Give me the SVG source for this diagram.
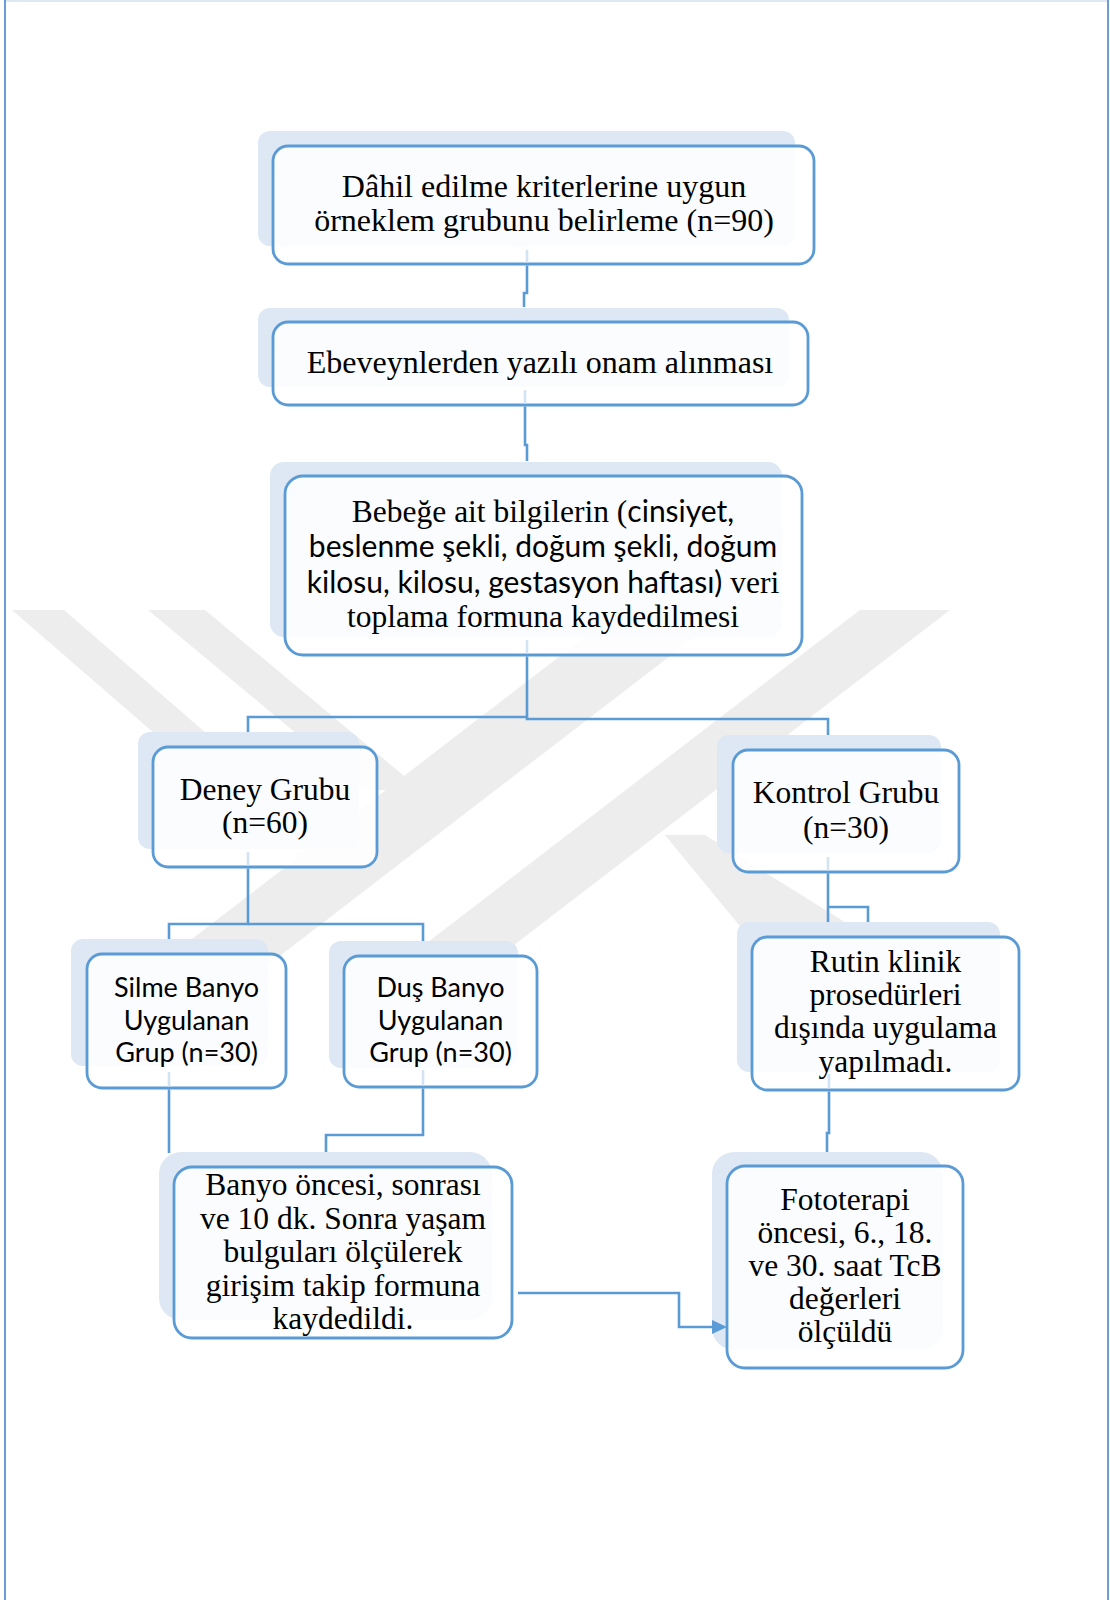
<svg xmlns="http://www.w3.org/2000/svg" width="1110" height="1600" viewBox="0 0 1110 1600">
<style>
.wm{fill:#ededed}
.sh{fill:#dde8f4}
.bx{fill:#ffffff;fill-opacity:0.86;stroke:#5b9bd5;stroke-width:2.8}
.cn{fill:none;stroke:#5b9bd5;stroke-width:2.6}
.cf{fill:none;stroke:#d3e3f3;stroke-width:2.6}
.se{font-family:"Liberation Serif","Times New Roman",serif;font-size:31.5px;fill:#000;text-anchor:middle}
.sl{font-family:"Liberation Serif","Times New Roman",serif;font-size:32px;fill:#000;text-anchor:middle}
.ss{font-family:Lato,Carlito,"Liberation Sans",sans-serif;font-size:30px;fill:#000;text-anchor:middle}
.sm{font-family:Lato,Carlito,"Liberation Sans",sans-serif;font-size:27px;fill:#000;text-anchor:middle}
.pb{stroke:#6a9fd6;stroke-width:2}
</style>
<defs>
<clipPath id="wmclip"><rect x="0" y="610" width="1110" height="355"/></clipPath>
<marker id="ah" markerWidth="16" markerHeight="14" refX="1" refY="7" orient="auto" markerUnits="userSpaceOnUse"><path d="M0,0 L15,7 L0,14 Z" fill="#5b9bd5"/></marker>
</defs>
<rect x="0" y="0" width="1110" height="1600" fill="#ffffff"/>
<g id="page-border">
<line x1="5" y1="1" x2="1108" y2="1" stroke="#dde8f4" stroke-width="2"/>
<line class="pb" x1="5" y1="0" x2="5" y2="1600"/>
<line class="pb" x1="1108" y1="0" x2="1108" y2="1600"/>
</g>
<g id="watermark" clip-path="url(#wmclip)">
<polygon class="wm" points="12,610 64,610 214,740 162,740"/>
<polygon class="wm" points="148,610 205,610 421,790 364,790"/>
<polygon class="wm" points="620,610 730,610 255,975 145,975"/>
<polygon class="wm" points="860,610 950,610 475,975 385,975"/>
<polygon class="wm" points="665,835 705,835 930,975 780,975"/>
</g>
<g id="n1">
<rect class="sh" x="258" y="131" width="537" height="115" rx="12"/>
<rect class="bx" x="273" y="146" width="541" height="118" rx="15"/>
<text class="sl" x="544" y="197">Dâhil edilme kriterlerine uygun</text>
<text class="sl" x="544" y="231">örneklem grubunu belirleme (n=90)</text>
</g>
<g id="n2">
<rect class="sh" x="258" y="308" width="531" height="79" rx="12"/>
<rect class="bx" x="273" y="322" width="535" height="83" rx="15"/>
<text class="sl" x="540" y="373">Ebeveynlerden yazılı onam alınması</text>
</g>
<g id="n3">
<rect class="sh" x="270" y="462" width="512" height="175" rx="14"/>
<rect class="bx" x="285" y="476" width="517" height="179" rx="18"/>
<text class="se" x="543" y="522">Bebeğe ait bilgilerin (<tspan style="font-family:Lato,Carlito,'Liberation Sans',sans-serif;font-size:30px">cinsiyet,</tspan></text>
<text class="ss" x="543" y="557">beslenme şekli, doğum şekli, doğum</text>
<text class="ss" x="543" y="593">kilosu, kilosu, gestasyon haftası)<tspan style="font-family:'Liberation Serif','Times New Roman',serif;font-size:31.5px"> veri</tspan></text>
<text class="se" x="543" y="627">toplama formuna kaydedilmesi</text>
</g>
<g id="n4">
<rect class="sh" x="138" y="732" width="221" height="117" rx="12"/>
<rect class="bx" x="153" y="747" width="224" height="120" rx="15"/>
<text class="se" x="265" y="800">Deney Grubu</text>
<text class="se" x="265" y="833">(n=60)</text>
</g>
<g id="n5">
<rect class="sh" x="717" y="735" width="224" height="118" rx="12"/>
<rect class="bx" x="733" y="750" width="226" height="122" rx="15"/>
<text class="se" x="846" y="803">Kontrol Grubu</text>
<text class="se" x="846" y="838">(n=30)</text>
</g>
<g id="n6">
<rect class="sh" x="71" y="939" width="197" height="127" rx="12"/>
<rect class="bx" x="87" y="954" width="199" height="134" rx="15"/>
<text class="sm" x="186.5" y="997">Silme Banyo</text>
<text class="sm" x="186.5" y="1030">Uygulanan</text>
<text class="sm" x="186.5" y="1062">Grup (n=30)</text>
</g>
<g id="n7">
<rect class="sh" x="329" y="941" width="189" height="127" rx="12"/>
<rect class="bx" x="344" y="956" width="193" height="131" rx="15"/>
<text class="sm" x="440.5" y="997">Duş Banyo</text>
<text class="sm" x="440.5" y="1030">Uygulanan</text>
<text class="sm" x="440.5" y="1062">Grup (n=30)</text>
</g>
<g id="n8">
<rect class="sh" x="737" y="922" width="263" height="150" rx="12"/>
<rect class="bx" x="752" y="937" width="267" height="153" rx="15"/>
<text class="se" x="885.5" y="972">Rutin klinik</text>
<text class="se" x="885.5" y="1005">prosedürleri</text>
<text class="se" x="885.5" y="1038">dışında uygulama</text>
<text class="se" x="885.5" y="1072">yapılmadı.</text>
</g>
<g id="n9">
<rect class="sh" x="159" y="1152" width="333" height="168" rx="22"/>
<rect class="bx" x="174" y="1167" width="338" height="171" rx="18"/>
<text class="se" x="343" y="1195">Banyo öncesi, sonrası</text>
<text class="se" x="343" y="1228.5">ve 10 dk. Sonra yaşam</text>
<text class="se" x="343" y="1262">bulguları ölçülerek</text>
<text class="se" x="343" y="1295.5">girişim takip formuna</text>
<text class="se" x="343" y="1329">kaydedildi.</text>
</g>
<g id="n10">
<rect class="sh" x="712" y="1152" width="231" height="198" rx="22"/>
<rect class="bx" x="727" y="1166" width="236" height="202" rx="18"/>
<text class="se" x="845" y="1210">Fototerapi</text>
<text class="se" x="845" y="1243">öncesi, 6., 18.</text>
<text class="se" x="845" y="1276">ve 30. saat TcB</text>
<text class="se" x="845" y="1309">değerleri</text>
<text class="se" x="845" y="1342">ölçüldü</text>
</g>
<g id="connectors">
<path class="cf" d="M527,250 V262.5 M525,390 V403.5 M527,640 V653.5 M248,852 V865.5 M828,857 V870.5 M169,1072 V1086.5 M423,1070 V1085.5 M829,1074 V1088.5"/>
<path class="cn" d="M527,265.4 V293 H524 V307"/>
<path class="cn" d="M525,406.4 V445 H527 V461"/>
<path class="cn" d="M527,656.4 V719 H828 V735"/>
<path class="cn" d="M527,717 H248 V732"/>
<path class="cn" d="M248,868.4 V924 H169 V939"/>
<path class="cn" d="M248,924 H423 V941"/>
<path class="cn" d="M828,873.4 V922"/>
<path class="cn" d="M828,907 H868 V922"/>
<path class="cn" d="M169,1089.4 V1153"/>
<path class="cn" d="M423,1088.4 V1135 H326 V1152"/>
<path class="cn" d="M829,1091.4 V1133 H827 V1152"/>
<path class="cn" d="M518,1293 H679 V1327 H713" marker-end="url(#ah)"/>
</g>
</svg>
